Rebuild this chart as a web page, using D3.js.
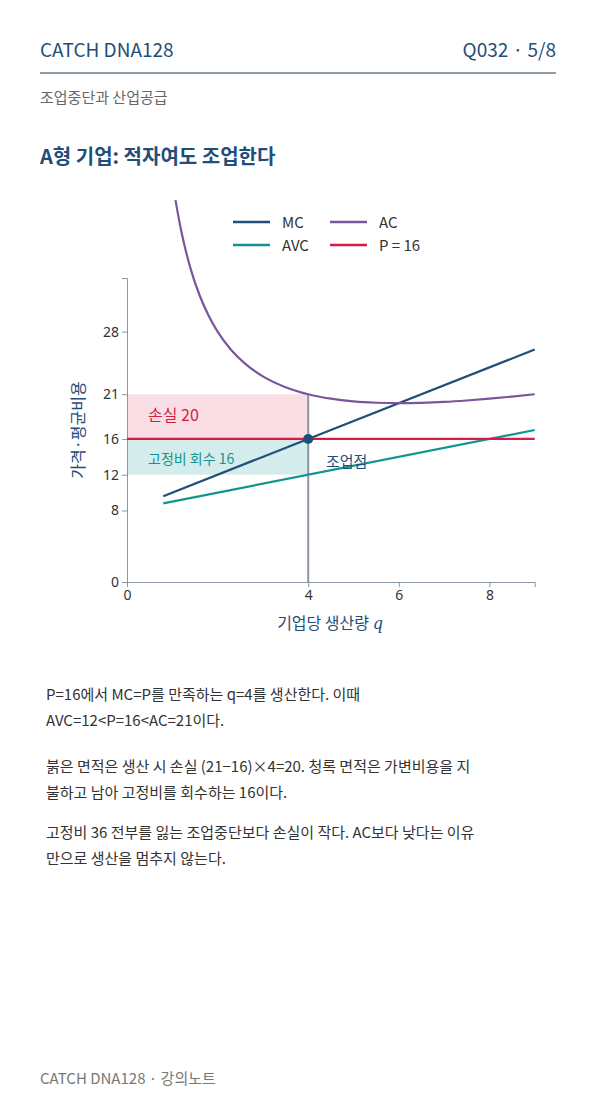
<!DOCTYPE html>
<html><head><meta charset="utf-8">
<script src="https://cdn.jsdelivr.net/npm/d3@7"></script>
<style>body{margin:0;background:#fff;font-family:"Noto Sans CJK KR","Noto Sans",sans-serif}</style>
</head><body><svg id="c" width="596" height="1106" font-family="Noto Sans CJK KR, Noto Sans, sans-serif"></svg>
<script>
const xTicks=[0,4,6,8];
const yTicks=[0,8,12,16,21,28];
const mcQ=[0.8,9], mcV=[9.6,26];
const avcQ=[0.8,9], avcV=[8.8,17];
const acQ=[1.07,1.2,1.4,1.6,1.8,2,2.3,2.6,3,3.5,4,4.5,5,5.5,6,6.5,7,7.5,8,8.5,9];
const acV=[42.71,39.2,35.11,32.1,29.8,28,25.95,24.45,23,21.79,21,20.5,20.2,20.05,20,20.04,20.14,20.3,20.5,20.74,21];
const price=16, qStar=4, acStar=21, avcStar=12;
const C={blue:"#1f4e79",teal:"#11948f",purple:"#7b559c",red:"#d81b45",gray:"#8a96a3"};
const svg=d3.select("#c");
const t=(x,y,s,o={})=>{const e=svg.append("text").attr("x",x).attr("y",y).text(s).attr("font-size",o.size||15).attr("fill",o.fill||"#333").attr("text-anchor",o.anchor||"start");if(o.weight)e.attr("font-weight",o.weight);return e;};
t(40,57,"CATCH DNA128",{size:19,fill:C.blue});
t(556,57,"Q032 · 5/8",{size:19,fill:C.blue,anchor:"end"});
svg.append("line").attr("x1",40).attr("x2",556).attr("y1",73).attr("y2",73).attr("stroke","#1f3a52");
t(40,103,"조업중단과 산업공급",{size:15,fill:"#666"});
t(40,164,"A형 기업: 적자여도 조업한다",{size:20,fill:C.blue,weight:"bold"});
const x=d3.scaleLinear().domain([0,9]).range([127,534.7]);
const y=d3.scaleLinear().domain([0,34]).range([582,278]);
const g=svg.append("g");
g.append("rect").attr("x",x(0)).attr("y",y(acStar)).attr("width",x(qStar)-x(0)).attr("height",y(price)-y(acStar)).attr("fill",C.red).attr("opacity",0.14);
g.append("rect").attr("x",x(0)).attr("y",y(price)).attr("width",x(qStar)-x(0)).attr("height",y(avcStar)-y(price)).attr("fill",C.teal).attr("opacity",0.18);
g.append("g").attr("transform","translate(0,582)").call(d3.axisBottom(x).tickValues(xTicks).tickSize(5)).call(a=>{a.select(".domain").attr("stroke",C.gray);a.selectAll("line").attr("stroke",C.gray);a.selectAll("text").attr("font-size",14).attr("fill","#333").attr("font-family","Noto Sans")});
g.append("g").attr("transform","translate(127,0)").call(d3.axisLeft(y).tickValues(yTicks).tickSize(5)).call(a=>{a.select(".domain").attr("stroke",C.gray);a.selectAll("line").attr("stroke",C.gray);a.selectAll("text").attr("font-size",14).attr("fill","#333").attr("font-family","Noto Sans")});
g.append("line").attr("x1",x(qStar)).attr("x2",x(qStar)).attr("y1",y(acStar)).attr("y2",y(0)).attr("stroke",C.gray).attr("stroke-width",2);
const ln=d3.line().x(d=>x(d[0])).y(d=>y(d[1])).curve(d3.curveMonotoneX);
const path=(qs,vs,c)=>g.append("path").attr("d",ln(qs.map((q,i)=>[q,vs[i]]))).attr("fill","none").attr("stroke",c).attr("stroke-width",2.2);
path(avcQ,avcV,C.teal);
path(mcQ,mcV,C.blue);
path(acQ,acV,C.purple);
g.append("line").attr("x1",x(0)).attr("x2",x(9)).attr("y1",y(price)).attr("y2",y(price)).attr("stroke",C.red).attr("stroke-width",2.2);
g.append("circle").attr("cx",x(qStar)).attr("cy",y(price)).attr("r",5).attr("fill",C.blue);
t(148,421,"손실 20",{size:16,fill:C.red});
t(148,464,"고정비 회수 16",{size:14,fill:C.teal});
t(326,467,"조업점",{size:15,fill:C.blue});
t(0,0,"가격·평균비용",{size:16,fill:C.blue,anchor:"middle"}).attr("transform","translate(84,430) rotate(-90)");
const xl=t(330,629,"기업당 생산량 ",{size:16,fill:C.blue,anchor:"middle"});
xl.append("tspan").attr("font-style","italic").attr("font-family","DejaVu Serif").text("q");
const leg=[["MC",C.blue,233,222],["AC",C.purple,330,222],["AVC",C.teal,233,245],["P = 16",C.red,330,245]];
leg.forEach(([n,c,lx,ly])=>{svg.append("line").attr("x1",lx).attr("x2",lx+37).attr("y1",ly).attr("y2",ly).attr("stroke",c).attr("stroke-width",2.5);t(lx+49,ly+6,n,{size:15,fill:"#333"});});
const body=[["P=16에서 MC=P를 만족하는 q=4를 생산한다. 이때",700],["AVC=12<P=16<AC=21이다.",726],["붉은 면적은 생산 시 손실 (21−16)×4=20. 청록 면적은 가변비용을 지",772],["불하고 남아 고정비를 회수하는 16이다.",798],["고정비 36 전부를 잃는 조업중단보다 손실이 작다. AC보다 낮다는 이유",838],["만으로 생산을 멈추지 않는다.",864]];
body.forEach(([s,yy])=>t(46,yy,s,{size:15,fill:"#333"}));
t(40,1084,"CATCH DNA128 · 강의노트",{size:15,fill:"#777"});
</script></body></html>
